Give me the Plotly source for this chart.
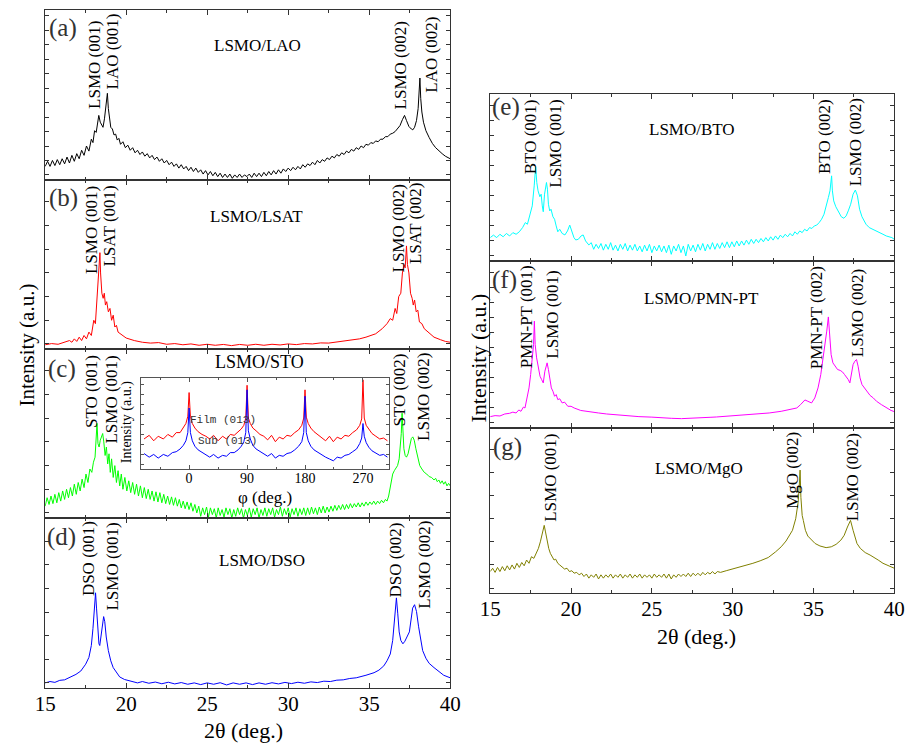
import plotly.graph_objects as go

W, H = 918, 745

def fx(p):
    return p / W

def fy(p):
    return 1 - p / H

# ---------------- data (2theta in deg, normalised intensity per panel) ----------------
lao_pts = [
    (15.00, 0.08), (15.15, 0.11), (15.30, 0.08), (15.45, 0.115), (15.60, 0.085), (15.75, 0.12),
    (15.90, 0.09), (16.05, 0.125), (16.20, 0.095), (16.35, 0.135), (16.50, 0.10), (16.65, 0.145),
    (16.80, 0.11), (16.95, 0.155), (17.10, 0.125), (17.25, 0.175), (17.40, 0.145), (17.55, 0.20),
    (17.70, 0.17), (17.85, 0.24), (17.95, 0.22), (18.05, 0.29), (18.15, 0.28), (18.25, 0.35),
    (18.31, 0.38), (18.40, 0.34), (18.50, 0.32), (18.57, 0.31), (18.66, 0.36), (18.75, 0.43),
    (18.84, 0.51), (18.90, 0.42), (18.97, 0.36), (19.05, 0.31), (19.15, 0.30), (19.25, 0.265),
    (19.35, 0.27), (19.45, 0.235), (19.55, 0.245), (19.65, 0.21), (19.80, 0.225), (19.95, 0.19),
    (20.10, 0.205), (20.25, 0.175), (20.40, 0.19), (20.55, 0.16), (20.70, 0.175), (20.85, 0.15),
    (21.00, 0.165), (21.15, 0.14), (21.30, 0.155), (21.45, 0.13), (21.60, 0.145), (21.75, 0.12),
    (21.90, 0.135), (22.05, 0.11), (22.20, 0.125), (22.35, 0.10), (22.50, 0.115), (22.65, 0.09),
    (22.80, 0.105), (22.95, 0.08), (23.10, 0.095), (23.25, 0.07), (23.40, 0.09), (23.55, 0.065),
    (23.70, 0.08), (23.85, 0.055), (24.00, 0.075), (24.15, 0.05), (24.30, 0.07), (24.45, 0.045),
    (24.60, 0.06), (24.75, 0.035), (24.90, 0.055), (25.05, 0.03), (25.20, 0.05), (25.35, 0.025),
    (25.50, 0.045), (25.65, 0.02), (25.80, 0.04), (25.95, 0.015), (26.10, 0.035), (26.25, 0.015),
    (26.40, 0.035), (26.55, 0.01), (26.70, 0.03), (26.85, 0.015), (27.00, 0.035), (27.15, 0.015),
    (27.30, 0.03), (27.45, 0.02), (27.60, 0.035), (27.75, 0.015), (27.90, 0.04), (28.05, 0.02),
    (28.20, 0.04), (28.35, 0.02), (28.50, 0.045), (28.65, 0.025), (28.80, 0.05), (28.95, 0.03),
    (29.10, 0.055), (29.25, 0.035), (29.40, 0.06), (29.55, 0.04), (29.70, 0.065), (29.85, 0.05),
    (30.00, 0.07), (30.15, 0.055), (30.30, 0.075), (30.45, 0.06), (30.60, 0.08), (30.75, 0.065),
    (30.90, 0.09), (31.05, 0.075), (31.20, 0.095), (31.35, 0.085), (31.50, 0.105), (31.65, 0.09),
    (31.80, 0.115), (31.95, 0.10), (32.10, 0.12), (32.25, 0.11), (32.40, 0.13), (32.55, 0.12),
    (32.70, 0.14), (32.85, 0.13), (33.00, 0.15), (33.15, 0.14), (33.30, 0.16), (33.45, 0.15),
    (33.60, 0.17), (33.75, 0.16), (33.90, 0.18), (34.05, 0.17), (34.20, 0.19), (34.35, 0.18),
    (34.50, 0.20), (34.65, 0.19), (34.80, 0.21), (34.95, 0.205), (35.10, 0.22), (35.25, 0.215),
    (35.40, 0.23), (35.55, 0.225), (35.70, 0.24), (35.85, 0.24), (36.00, 0.255), (36.15, 0.255),
    (36.30, 0.27), (36.45, 0.275), (36.60, 0.285), (36.75, 0.30), (36.90, 0.32), (37.05, 0.355),
    (37.18, 0.38), (37.30, 0.35), (37.45, 0.315), (37.60, 0.30), (37.69, 0.295), (37.80, 0.31),
    (37.92, 0.35), (38.02, 0.42), (38.08, 0.50), (38.13, 0.60), (38.18, 0.48), (38.25, 0.40),
    (38.35, 0.34), (38.50, 0.29), (38.70, 0.25), (38.90, 0.215), (39.10, 0.19), (39.30, 0.17),
    (39.50, 0.155), (39.70, 0.14), (39.85, 0.13), (40.00, 0.125),
]

lsat_pts = [
    (15.00, 0.025), (15.40, 0.032), (15.80, 0.028), (16.10, 0.038), (16.30, 0.04), (16.50, 0.05),
    (16.65, 0.04), (16.80, 0.06), (16.95, 0.045), (17.10, 0.07), (17.25, 0.05), (17.40, 0.08),
    (17.55, 0.06), (17.70, 0.10), (17.85, 0.08), (18.00, 0.17), (18.10, 0.15), (18.20, 0.30),
    (18.27, 0.41), (18.33, 0.45), (18.38, 0.57), (18.42, 0.45), (18.50, 0.33), (18.58, 0.30),
    (18.65, 0.33), (18.72, 0.26), (18.80, 0.28), (18.90, 0.22), (19.00, 0.24), (19.10, 0.17),
    (19.20, 0.20), (19.30, 0.13), (19.40, 0.14), (19.50, 0.10), (19.65, 0.09), (19.80, 0.075),
    (20.00, 0.065), (20.50, 0.05), (21.00, 0.04), (21.50, 0.035), (22.00, 0.038), (22.50, 0.028),
    (23.00, 0.032), (23.50, 0.025), (24.00, 0.03), (24.50, 0.022), (25.00, 0.028), (25.50, 0.022),
    (26.00, 0.027), (26.50, 0.02), (27.00, 0.027), (27.50, 0.022), (28.00, 0.028), (28.50, 0.022),
    (29.00, 0.028), (29.50, 0.024), (30.00, 0.03), (30.50, 0.026), (31.00, 0.032), (31.50, 0.03),
    (32.00, 0.036), (32.50, 0.035), (33.00, 0.042), (33.50, 0.045), (34.00, 0.052), (34.40, 0.06),
    (34.80, 0.07), (35.10, 0.08), (35.40, 0.09), (35.80, 0.12), (36.10, 0.15), (36.30, 0.18),
    (36.45, 0.17), (36.60, 0.24), (36.70, 0.21), (36.82, 0.31), (36.95, 0.33), (37.05, 0.45),
    (37.15, 0.50), (37.22, 0.48), (37.30, 0.61), (37.36, 0.50), (37.45, 0.45), (37.55, 0.33),
    (37.65, 0.30), (37.72, 0.26), (37.80, 0.29), (37.90, 0.22), (38.00, 0.23), (38.10, 0.16),
    (38.25, 0.15), (38.40, 0.12), (38.70, 0.095), (39.00, 0.07), (39.40, 0.055), (39.70, 0.045),
    (40.00, 0.04),
]

sto_pts = [
    (15.00, 0.07), (15.12, 0.12), (15.24, 0.08), (15.36, 0.13), (15.48, 0.085), (15.60, 0.14),
    (15.72, 0.09), (15.84, 0.15), (15.96, 0.10), (16.08, 0.16), (16.20, 0.11), (16.32, 0.17),
    (16.44, 0.12), (16.56, 0.18), (16.68, 0.13), (16.80, 0.20), (16.92, 0.14), (17.04, 0.21),
    (17.16, 0.16), (17.28, 0.23), (17.40, 0.18), (17.52, 0.26), (17.64, 0.21), (17.76, 0.29),
    (17.88, 0.27), (17.98, 0.33), (18.08, 0.36), (18.15, 0.45), (18.20, 0.56), (18.26, 0.44),
    (18.33, 0.42), (18.40, 0.46), (18.48, 0.49), (18.55, 0.50), (18.62, 0.45), (18.70, 0.37),
    (18.78, 0.42), (18.86, 0.32), (18.94, 0.38), (19.02, 0.27), (19.10, 0.35), (19.20, 0.24),
    (19.30, 0.31), (19.40, 0.21), (19.50, 0.28), (19.60, 0.19), (19.70, 0.26), (19.80, 0.17),
    (19.92, 0.24), (20.04, 0.16), (20.16, 0.22), (20.28, 0.15), (20.40, 0.21), (20.52, 0.14),
    (20.64, 0.20), (20.76, 0.13), (20.88, 0.19), (21.00, 0.12), (21.12, 0.18), (21.24, 0.115),
    (21.36, 0.17), (21.48, 0.11), (21.60, 0.16), (21.72, 0.10), (21.84, 0.155), (21.96, 0.095),
    (22.08, 0.15), (22.20, 0.09), (22.32, 0.14), (22.44, 0.085), (22.56, 0.13), (22.68, 0.08),
    (22.80, 0.125), (22.92, 0.075), (23.04, 0.12), (23.16, 0.07), (23.28, 0.11), (23.40, 0.06),
    (23.52, 0.10), (23.64, 0.055), (23.76, 0.095), (23.88, 0.05), (24.00, 0.09), (24.12, 0.04),
    (24.24, 0.08), (24.36, 0.03), (24.48, 0.07), (24.60, 0.01), (24.72, 0.06), (24.84, 0.02),
    (24.96, 0.065), (25.08, 0.005), (25.20, 0.06), (25.32, 0.02), (25.44, 0.055), (25.56, 0.0),
    (25.68, 0.06), (25.80, 0.015), (25.92, 0.05), (26.04, 0.005), (26.16, 0.06), (26.28, 0.02),
    (26.40, 0.055), (26.52, 0.0), (26.64, 0.05), (26.76, 0.01), (26.88, 0.06), (27.00, 0.02),
    (27.12, 0.055), (27.24, 0.0), (27.36, 0.05), (27.48, 0.015), (27.60, 0.06), (27.72, 0.005),
    (27.84, 0.055), (27.96, 0.02), (28.08, 0.06), (28.20, 0.0), (28.32, 0.05), (28.44, 0.015),
    (28.56, 0.06), (28.68, 0.01), (28.80, 0.055), (28.92, 0.02), (29.04, 0.06), (29.16, 0.005),
    (29.28, 0.05), (29.40, 0.02), (29.52, 0.065), (29.64, 0.01), (29.76, 0.055), (29.88, 0.02),
    (30.00, 0.06), (30.12, 0.005), (30.24, 0.055), (30.36, 0.02), (30.48, 0.06), (30.60, 0.01),
    (30.72, 0.055), (30.84, 0.02), (30.96, 0.06), (31.08, 0.015), (31.20, 0.06), (31.32, 0.02),
    (31.44, 0.065), (31.56, 0.025), (31.68, 0.06), (31.80, 0.02), (31.92, 0.065), (32.04, 0.03),
    (32.16, 0.07), (32.28, 0.03), (32.40, 0.065), (32.52, 0.035), (32.64, 0.07), (32.76, 0.04),
    (32.88, 0.075), (33.00, 0.045), (33.12, 0.075), (33.24, 0.05), (33.36, 0.08), (33.48, 0.05),
    (33.60, 0.08), (33.72, 0.055), (33.84, 0.085), (33.96, 0.06), (34.08, 0.085), (34.20, 0.065),
    (34.32, 0.09), (34.44, 0.065), (34.56, 0.09), (34.68, 0.07), (34.80, 0.095), (34.92, 0.075),
    (35.04, 0.095), (35.16, 0.08), (35.28, 0.10), (35.40, 0.08), (35.52, 0.10), (35.64, 0.085),
    (35.76, 0.105), (35.88, 0.09), (36.00, 0.11), (36.10, 0.10), (36.20, 0.13), (36.28, 0.17),
    (36.35, 0.22), (36.45, 0.26), (36.55, 0.28), (36.65, 0.30), (36.75, 0.31), (36.85, 0.35),
    (36.93, 0.42), (36.98, 0.50), (37.03, 0.62), (37.08, 0.50), (37.14, 0.41), (37.22, 0.37),
    (37.30, 0.36), (37.40, 0.38), (37.50, 0.43), (37.60, 0.47), (37.69, 0.48), (37.78, 0.46),
    (37.88, 0.41), (38.00, 0.35), (38.12, 0.31), (38.25, 0.29), (38.40, 0.27), (38.55, 0.26),
    (38.70, 0.245), (38.85, 0.24), (39.00, 0.225), (39.10, 0.235), (39.20, 0.215), (39.30, 0.225),
    (39.40, 0.205), (39.50, 0.22), (39.60, 0.20), (39.70, 0.215), (39.80, 0.19), (39.90, 0.205),
    (40.00, 0.19),
]

dso_pts = [
    (15.00, 0.03), (15.30, 0.038), (15.60, 0.033), (15.90, 0.045), (16.20, 0.048), (16.50, 0.06),
    (16.90, 0.08), (17.20, 0.10), (17.50, 0.14), (17.70, 0.18), (17.85, 0.25), (17.95, 0.35),
    (18.05, 0.48), (18.11, 0.56), (18.17, 0.47), (18.25, 0.32), (18.32, 0.26), (18.37, 0.25),
    (18.45, 0.31), (18.53, 0.38), (18.61, 0.42), (18.68, 0.39), (18.77, 0.30), (18.90, 0.22),
    (19.05, 0.16), (19.20, 0.12), (19.40, 0.09), (19.60, 0.065), (19.90, 0.05), (20.30, 0.042),
    (20.70, 0.03), (21.00, 0.038), (21.40, 0.028), (21.80, 0.035), (22.20, 0.025), (22.60, 0.034),
    (23.00, 0.024), (23.40, 0.032), (23.80, 0.022), (24.20, 0.03), (24.60, 0.02), (25.00, 0.03),
    (25.40, 0.022), (25.80, 0.031), (26.20, 0.018), (26.60, 0.03), (27.00, 0.022), (27.40, 0.03),
    (27.80, 0.02), (28.20, 0.03), (28.60, 0.022), (29.00, 0.031), (29.40, 0.024), (29.80, 0.033),
    (30.20, 0.026), (30.60, 0.034), (31.00, 0.028), (31.40, 0.036), (31.80, 0.032), (32.20, 0.04),
    (32.60, 0.038), (33.00, 0.046), (33.40, 0.048), (33.80, 0.056), (34.20, 0.06), (34.80, 0.075),
    (35.30, 0.09), (35.60, 0.105), (35.90, 0.13), (36.10, 0.16), (36.30, 0.20), (36.45, 0.28),
    (36.58, 0.42), (36.68, 0.53), (36.76, 0.44), (36.85, 0.33), (36.95, 0.28), (37.08, 0.26),
    (37.20, 0.275), (37.35, 0.30), (37.48, 0.33), (37.58, 0.40), (37.68, 0.47), (37.80, 0.49),
    (37.92, 0.45), (38.05, 0.36), (38.18, 0.28), (38.30, 0.22), (38.50, 0.175), (38.70, 0.145),
    (39.00, 0.12), (39.30, 0.095), (39.60, 0.075), (40.00, 0.06),
]

bto_pts = [
    (15.00, 0.14), (15.20, 0.155), (15.40, 0.14), (15.60, 0.16), (15.80, 0.145), (16.00, 0.165),
    (16.20, 0.15), (16.40, 0.17), (16.60, 0.16), (16.80, 0.175), (17.00, 0.20), (17.17, 0.23),
    (17.30, 0.22), (17.47, 0.29), (17.60, 0.33), (17.72, 0.45), (17.81, 0.565), (17.88, 0.47),
    (17.96, 0.42), (18.07, 0.385), (18.15, 0.40), (18.22, 0.33), (18.28, 0.295), (18.36, 0.40),
    (18.43, 0.46), (18.48, 0.47), (18.54, 0.43), (18.60, 0.34), (18.68, 0.30), (18.76, 0.31),
    (18.88, 0.265), (18.98, 0.25), (19.08, 0.21), (19.18, 0.175), (19.30, 0.19), (19.45, 0.165),
    (19.62, 0.156), (19.78, 0.18), (19.92, 0.215), (20.05, 0.17), (20.18, 0.14), (20.29, 0.126),
    (20.45, 0.13), (20.62, 0.15), (20.75, 0.156), (20.90, 0.12), (21.10, 0.096), (21.25, 0.11),
    (21.40, 0.07), (21.55, 0.10), (21.70, 0.075), (21.85, 0.105), (22.00, 0.065), (22.15, 0.10),
    (22.30, 0.07), (22.45, 0.11), (22.60, 0.065), (22.75, 0.095), (22.90, 0.06), (23.05, 0.10),
    (23.20, 0.07), (23.35, 0.105), (23.50, 0.06), (23.65, 0.095), (23.80, 0.065), (23.95, 0.10),
    (24.10, 0.06), (24.25, 0.09), (24.40, 0.055), (24.55, 0.095), (24.70, 0.06), (24.85, 0.10),
    (25.00, 0.05), (25.15, 0.09), (25.30, 0.06), (25.45, 0.095), (25.60, 0.055), (25.75, 0.09),
    (25.90, 0.05), (26.05, 0.095), (26.20, 0.04), (26.35, 0.09), (26.50, 0.06), (26.65, 0.10),
    (26.80, 0.05), (26.95, 0.09), (27.10, 0.03), (27.25, 0.10), (27.40, 0.06), (27.55, 0.095),
    (27.70, 0.055), (27.85, 0.10), (28.00, 0.065), (28.15, 0.105), (28.30, 0.06), (28.45, 0.10),
    (28.60, 0.07), (28.75, 0.11), (28.90, 0.07), (29.05, 0.105), (29.20, 0.075), (29.35, 0.11),
    (29.50, 0.08), (29.65, 0.115), (29.80, 0.08), (29.95, 0.115), (30.10, 0.085), (30.25, 0.12),
    (30.40, 0.09), (30.55, 0.12), (30.70, 0.095), (30.85, 0.125), (31.00, 0.10), (31.15, 0.13),
    (31.30, 0.105), (31.45, 0.13), (31.60, 0.11), (31.75, 0.135), (31.90, 0.115), (32.05, 0.14),
    (32.20, 0.12), (32.35, 0.145), (32.50, 0.125), (32.65, 0.15), (32.80, 0.13), (32.95, 0.155),
    (33.10, 0.14), (33.25, 0.16), (33.40, 0.145), (33.55, 0.165), (33.70, 0.15), (33.85, 0.175),
    (34.00, 0.16), (34.15, 0.18), (34.30, 0.17), (34.45, 0.19), (34.60, 0.18), (34.75, 0.20),
    (34.90, 0.195), (35.05, 0.21), (35.20, 0.215), (35.35, 0.23), (35.50, 0.25), (35.65, 0.28),
    (35.80, 0.33), (35.92, 0.38), (36.02, 0.42), (36.08, 0.48), (36.12, 0.51), (36.17, 0.42),
    (36.25, 0.36), (36.38, 0.325), (36.55, 0.29), (36.72, 0.265), (36.88, 0.256), (37.02, 0.27),
    (37.15, 0.30), (37.30, 0.34), (37.45, 0.40), (37.59, 0.425), (37.72, 0.39), (37.85, 0.31),
    (38.00, 0.265), (38.09, 0.245), (38.25, 0.22), (38.45, 0.20), (38.65, 0.19), (38.90, 0.175),
    (39.10, 0.165), (39.30, 0.16), (39.50, 0.15), (39.70, 0.145), (39.85, 0.14), (40.00, 0.13),
]

pmnpt_pts = [
    (15.00, 0.068), (15.30, 0.074), (15.60, 0.072), (15.90, 0.084), (16.20, 0.088), (16.40, 0.095),
    (16.60, 0.09), (16.77, 0.108), (16.90, 0.10), (17.05, 0.125), (17.15, 0.12), (17.27, 0.18),
    (17.40, 0.24), (17.50, 0.32), (17.60, 0.40), (17.68, 0.50), (17.73, 0.64), (17.78, 0.50),
    (17.87, 0.42), (17.97, 0.36), (18.08, 0.31), (18.18, 0.29), (18.28, 0.27), (18.38, 0.34),
    (18.46, 0.38), (18.52, 0.39), (18.60, 0.35), (18.68, 0.29), (18.78, 0.24), (18.88, 0.22),
    (18.98, 0.19), (19.08, 0.20), (19.18, 0.17), (19.30, 0.175), (19.45, 0.15), (19.60, 0.155),
    (19.80, 0.13), (20.00, 0.13), (20.19, 0.12), (20.60, 0.105), (21.20, 0.095), (21.70, 0.09),
    (22.20, 0.084), (22.80, 0.078), (23.50, 0.072), (24.20, 0.068), (25.00, 0.065), (25.60, 0.06),
    (26.20, 0.058), (26.83, 0.056), (27.40, 0.06), (28.00, 0.062), (28.60, 0.064), (29.00, 0.066),
    (29.60, 0.07), (30.00, 0.072), (30.60, 0.076), (31.00, 0.078), (31.60, 0.084), (32.26, 0.09),
    (33.00, 0.10), (33.60, 0.11), (33.97, 0.12), (34.20, 0.14), (34.47, 0.168), (34.65, 0.16),
    (34.88, 0.15), (35.08, 0.18), (35.28, 0.24), (35.45, 0.32), (35.60, 0.42), (35.72, 0.50),
    (35.82, 0.58), (35.92, 0.665), (36.00, 0.52), (36.09, 0.44), (36.20, 0.39), (36.35, 0.365),
    (36.49, 0.35), (36.65, 0.345), (36.80, 0.335), (36.92, 0.32), (37.00, 0.31), (37.08, 0.30),
    (37.15, 0.29), (37.25, 0.27), (37.35, 0.33), (37.45, 0.38), (37.56, 0.40), (37.66, 0.41),
    (37.76, 0.37), (37.88, 0.30), (38.00, 0.26), (38.12, 0.245), (38.22, 0.23), (38.35, 0.21),
    (38.50, 0.195), (38.70, 0.18), (38.90, 0.16), (39.20, 0.14), (39.50, 0.12), (39.80, 0.105),
    (40.00, 0.098),
]

mgo_pts = [
    (15.00, 0.13), (15.15, 0.15), (15.30, 0.125), (15.45, 0.155), (15.60, 0.13), (15.75, 0.16),
    (15.90, 0.135), (16.05, 0.165), (16.20, 0.14), (16.35, 0.17), (16.50, 0.145), (16.65, 0.18),
    (16.80, 0.155), (16.95, 0.185), (17.10, 0.165), (17.25, 0.20), (17.40, 0.18), (17.55, 0.22),
    (17.70, 0.21), (17.85, 0.245), (17.98, 0.27), (18.10, 0.31), (18.20, 0.36), (18.28, 0.40),
    (18.34, 0.41), (18.42, 0.37), (18.52, 0.31), (18.62, 0.27), (18.72, 0.24), (18.82, 0.22),
    (18.95, 0.20), (19.05, 0.205), (19.18, 0.18), (19.30, 0.17), (19.45, 0.16), (19.60, 0.145),
    (19.75, 0.15), (19.90, 0.13), (20.05, 0.135), (20.19, 0.12), (20.35, 0.125), (20.50, 0.11),
    (20.65, 0.12), (20.80, 0.10), (20.95, 0.115), (21.10, 0.09), (21.25, 0.11), (21.40, 0.095),
    (21.55, 0.115), (21.70, 0.085), (21.85, 0.11), (22.00, 0.09), (22.15, 0.11), (22.30, 0.095),
    (22.45, 0.115), (22.60, 0.09), (22.75, 0.11), (22.90, 0.095), (23.05, 0.115), (23.20, 0.09),
    (23.35, 0.11), (23.50, 0.095), (23.65, 0.115), (23.80, 0.09), (23.95, 0.11), (24.10, 0.095),
    (24.25, 0.115), (24.40, 0.09), (24.55, 0.11), (24.70, 0.095), (24.85, 0.11), (25.00, 0.09),
    (25.15, 0.115), (25.30, 0.095), (25.45, 0.11), (25.60, 0.095), (25.75, 0.115), (25.90, 0.09),
    (26.05, 0.115), (26.20, 0.085), (26.35, 0.11), (26.50, 0.095), (26.65, 0.115), (26.80, 0.10),
    (26.95, 0.115), (27.10, 0.10), (27.25, 0.12), (27.40, 0.10), (27.55, 0.12), (27.70, 0.105),
    (27.85, 0.12), (28.00, 0.105), (28.15, 0.125), (28.30, 0.11), (28.45, 0.125), (28.60, 0.115),
    (28.75, 0.13), (28.90, 0.115), (29.05, 0.13), (29.25, 0.125), (29.60, 0.135), (30.00, 0.145),
    (30.50, 0.16), (31.00, 0.17), (31.25, 0.18), (31.70, 0.195), (32.20, 0.215), (32.66, 0.25),
    (33.00, 0.28), (33.30, 0.315), (33.46, 0.34), (33.70, 0.38), (33.90, 0.45), (34.05, 0.55),
    (34.12, 0.65), (34.17, 0.745), (34.22, 0.58), (34.30, 0.47), (34.37, 0.44), (34.50, 0.38),
    (34.65, 0.345), (34.87, 0.32), (35.10, 0.30), (35.40, 0.285), (35.78, 0.275), (36.10, 0.28),
    (36.40, 0.295), (36.69, 0.32), (36.90, 0.35), (37.10, 0.40), (37.29, 0.44), (37.45, 0.38),
    (37.58, 0.33), (37.69, 0.30), (37.90, 0.27), (38.20, 0.245), (38.50, 0.23), (38.70, 0.22),
    (39.00, 0.20), (39.30, 0.18), (39.60, 0.165), (40.00, 0.15),
]

# inset: phi scans (deg, normalised)
film_phi_pts = [
    (-70, 0.33), (-62, 0.37), (-55, 0.31), (-48, 0.36), (-40, 0.33), (-33, 0.38), (-26, 0.35),
    (-20, 0.40), (-14, 0.40), (-9, 0.45), (-5, 0.50), (-2, 0.58), (0, 0.84), (2, 0.58), (5, 0.50),
    (9, 0.45), (14, 0.41), (20, 0.38), (26, 0.36), (32, 0.33), (38, 0.37), (45, 0.31), (52, 0.36),
    (58, 0.33), (64, 0.38), (70, 0.37), (76, 0.41), (81, 0.44), (85, 0.48), (88, 0.56), (90, 0.92),
    (92, 0.56), (95, 0.50), (99, 0.45), (104, 0.42), (110, 0.38), (116, 0.36), (122, 0.32),
    (128, 0.37), (134, 0.30), (140, 0.35), (146, 0.33), (152, 0.37), (158, 0.36), (164, 0.40),
    (170, 0.43), (175, 0.48), (178, 0.56), (180, 0.87), (182, 0.57), (185, 0.50), (189, 0.45),
    (194, 0.41), (200, 0.38), (206, 0.35), (212, 0.31), (218, 0.36), (224, 0.30), (230, 0.35),
    (236, 0.33), (242, 0.37), (248, 0.36), (254, 0.40), (260, 0.43), (265, 0.48), (268, 0.55),
    (270, 0.98), (272, 0.56), (275, 0.48), (279, 0.44), (284, 0.39), (290, 0.36), (296, 0.33),
    (302, 0.34), (308, 0.31),
]
sub_phi_pts = [
    (-70, 0.17), (-62, 0.13), (-55, 0.16), (-48, 0.12), (-40, 0.16), (-33, 0.14), (-26, 0.18),
    (-20, 0.19), (-14, 0.22), (-9, 0.26), (-5, 0.31), (-2, 0.40), (0, 0.67), (2, 0.40), (5, 0.31),
    (9, 0.25), (14, 0.21), (20, 0.18), (26, 0.16), (32, 0.13), (38, 0.16), (45, 0.12), (52, 0.15),
    (58, 0.14), (64, 0.18), (70, 0.18), (76, 0.21), (81, 0.25), (85, 0.30), (88, 0.40), (90, 0.87),
    (92, 0.42), (95, 0.33), (99, 0.26), (104, 0.22), (110, 0.19), (116, 0.16), (122, 0.14),
    (128, 0.17), (134, 0.12), (140, 0.15), (146, 0.14), (152, 0.17), (158, 0.18), (164, 0.21),
    (170, 0.25), (175, 0.30), (178, 0.40), (180, 0.80), (182, 0.40), (185, 0.31), (189, 0.25),
    (194, 0.21), (200, 0.18), (206, 0.15), (212, 0.13), (218, 0.11), (224, 0.09), (230, 0.13),
    (236, 0.12), (242, 0.15), (248, 0.16), (254, 0.19), (260, 0.22), (265, 0.28), (268, 0.34),
    (270, 0.50), (272, 0.36), (275, 0.29), (279, 0.24), (284, 0.20), (290, 0.17), (296, 0.15),
    (302, 0.16), (308, 0.13),
]

x_ticks = [15, 20, 25, 30, 35, 40]
phi_ticks = [0, 90, 180, 270]

# ---------------- layout helpers ----------------
SERIF = "Liberation Serif, Times New Roman, serif"
LEFT = (35, 450)
RIGHT = (491, 905)

panels = [
    ("(a)", "LSMO/LAO", "#000000", lao_pts, LEFT, (10, 180), 0.085,
     [("LSMO (001)", 86, 65), ("LAO (001)", 104, 52), ("LSMO (002)", 400, 65), ("LAO (002)", 430, 55)],
     (53, 28), (253, 45)),
    ("(b)", "LSMO/LSAT", "#ff0000", lsat_pts, LEFT, (180, 349), 0.14,
     [("LSMO (001)", 82, 230), ("LSAT (001)", 100, 226), ("LSMO (002)", 397, 228), ("LSAT (002)", 415, 224)],
     (54, 198), (252, 217)),
    ("(c)", "LSMO/STO", "#00ff00", sto_pts, LEFT, (349, 518), 0.14,
     [("STO (001)", 82, 392), ("LSMO (001)", 102, 400), ("STO (002)", 398, 390), ("LSMO (002)", 422, 397)],
     (52, 369), (255, 362)),
    ("(d)", "LSMO/DSO", "#0000ff", dso_pts, LEFT, (518, 688), 0.139,
     [("DSO (001)", 79, 559), ("LSMO (001)", 103, 567), ("DSO (002)", 393, 560), ("LSMO (002)", 423, 565)],
     (52, 537), (257, 560)),
    ("(e)", "LSMO/BTO", "#00ffff", bto_pts, RIGHT, (94, 261), 0.09,
     [("BTO (001)", 532, 137), ("LSMO (001)", 558, 144), ("BTO (002)", 833, 137), ("LSMO (002)", 865, 142)],
     (507, 107), (698, 130)),
    ("(f)", "LSMO/PMN-PT", "#ff00ff", pmnpt_pts, RIGHT, (261, 428), 0.09,
     [("PMN-PT (001)", 528, 317), ("LSMO (001)", 555, 315), ("PMN-PT (002)", 825, 318), ("LSMO (002)", 867, 313)],
     (506, 280), (707, 298)),
    ("(g)", "LSMO/MgO", "#808000", mgo_pts, RIGHT, (428, 593), 0.14,
     [("LSMO (001)", 552, 478), ("MgO (002)", 800, 470), ("LSMO (002)", 862, 477)],
     (509, 447), (705, 468)),
]

fig = go.Figure()
layout = dict(
    width=W, height=H, margin=dict(l=0, r=0, t=0, b=0, pad=0),
    paper_bgcolor="white", plot_bgcolor="rgba(0,0,0,0)", showlegend=False,
    font=dict(family=SERIF, color="black"),
)
annotations = []
AX_COL = "#333333"


def note(text, px, py, size, angle=0, family=SERIF, color="black"):
    return dict(text=text, x=fx(px), y=fy(py), xref="paper", yref="paper", showarrow=False,
                textangle=angle, xanchor="center", yanchor="middle",
                font=dict(family=family, size=size, color=color))


for i, (letter, title, color, pts, xd, yd, ystep, labels, lpos, tpos) in enumerate(panels, start=1):
    sfx = "" if i == 1 else str(i)
    xs = [p[0] for p in pts]
    ys = [p[1] for p in pts]
    fig.add_trace(go.Scatter(x=xs, y=ys, mode="lines", line=dict(color=color, width=1),
                             xaxis="x" + sfx, yaxis="y" + sfx, hoverinfo="skip"))
    bottom = letter in ("(d)", "(g)")
    layout["xaxis" + sfx] = dict(
        domain=[fx(xd[0]), fx(xd[1])], anchor="y" + sfx, range=[15, 40],
        tickvals=x_ticks, ticks="inside", ticklen=5, tickcolor=AX_COL, mirror="ticks",
        showline=True, linecolor=AX_COL, linewidth=1, showgrid=False, zeroline=False,
        showticklabels=bottom, tickfont=dict(family=SERIF, size=21, color="black"),
        ticklabelstandoff=-3,
        minor=dict(dtick=2.5, tick0=15, ticks="inside", ticklen=3, tickcolor=AX_COL),
    )
    layout["yaxis" + sfx] = dict(
        domain=[fy(yd[1]), fy(yd[0])], anchor="x" + sfx, range=[0, 1],
        tick0=0.03, dtick=ystep, ticks="inside", ticklen=4, tickcolor=AX_COL, mirror="ticks",
        showline=True, linecolor=AX_COL, linewidth=1, showgrid=False, zeroline=False,
        showticklabels=False,
    )
    annotations.append(note(letter, lpos[0], lpos[1], 25, color="#333333"))
    annotations.append(note(title, tpos[0], tpos[1], 18 if title == "LSMO/STO" else 17))
    for txt, lx, ly in labels:
        annotations.append(note(txt, lx, ly, 17, angle=-90))

# inset (phi scans)
fig.add_trace(go.Scatter(x=[p[0] for p in film_phi_pts], y=[p[1] for p in film_phi_pts], mode="lines",
                         line=dict(color="#ff0000", width=1), xaxis="x8", yaxis="y8", hoverinfo="skip"))
fig.add_trace(go.Scatter(x=[p[0] for p in sub_phi_pts], y=[p[1] for p in sub_phi_pts], mode="lines",
                         line=dict(color="#0000ff", width=1), xaxis="x8", yaxis="y8", hoverinfo="skip"))
layout["xaxis8"] = dict(
    domain=[fx(133), fx(387)], anchor="y8", range=[-75, 310], tickvals=phi_ticks,
    ticks="inside", ticklen=4, tickcolor="#555555", mirror="ticks", showline=True,
    linecolor="#555555", linewidth=1, showgrid=False, zeroline=False,
    tickfont=dict(family=SERIF, size=14, color="black"), ticklabelstandoff=-4,
    minor=dict(dtick=45, tick0=0, ticks="inside", ticklen=2, tickcolor="#555555"),
)
layout["yaxis8"] = dict(
    domain=[fy(469), fy(378)], anchor="x8", range=[0, 1], tick0=0.05, dtick=0.11,
    ticks="inside", ticklen=3, tickcolor="#555555", mirror="ticks", showline=True,
    linecolor="#555555", linewidth=1, showgrid=False, zeroline=False, showticklabels=False,
)
MONO = "Liberation Mono, monospace"
annotations += [
    note("Film (013)", 217, 420, 11, family=MONO, color="#333333"),
    note("Sub (013)", 222, 441, 11, family=MONO, color="#333333"),
    note("Intensity (a.u.)", 119, 422, 14, angle=-90),
    note("φ (deg.)", 260, 497, 17),
    note("2θ (deg.)", 238, 730, 22),
    note("2θ (deg.)", 702, 636, 22),
    note("Intensity (a.u.)", 16, 345, 21, angle=-90),
    note("Intensity (a.u.)", 478, 358, 22, angle=-90),
]
layout["annotations"] = annotations
fig.update_layout(**layout)
fig.write_html(
    "out.html",
    config={"displayModeBar": False},
    post_script="document.body.style.margin='0px';document.body.style.padding='0px';"
                "document.documentElement.style.overflow='hidden';",
)
